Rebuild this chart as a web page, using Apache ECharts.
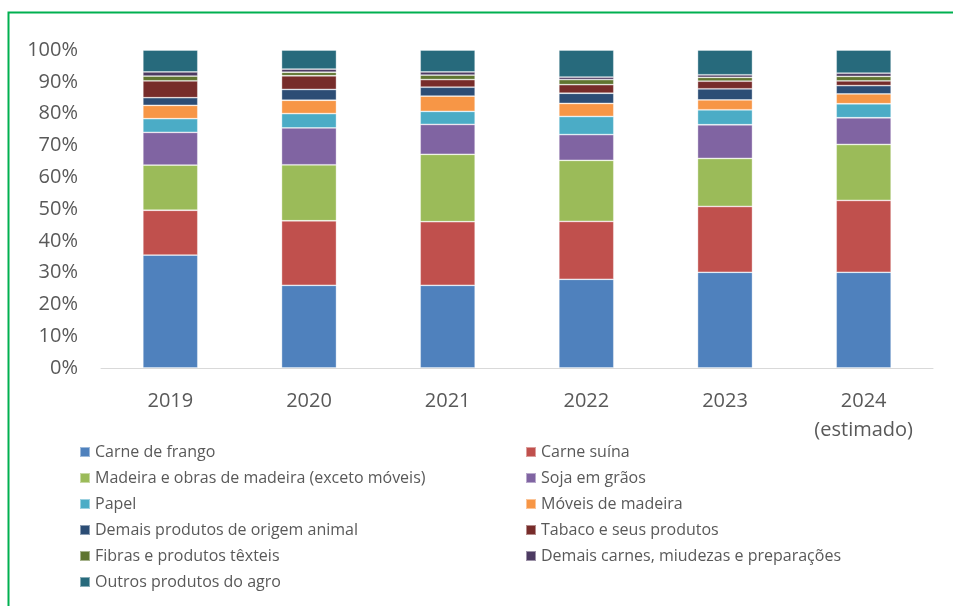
<!DOCTYPE html>
<html>
<head>
<meta charset="utf-8">
<script src="https://cdn.jsdelivr.net/npm/echarts@6/dist/echarts.min.js"></script>
<style>html,body{margin:0;padding:0;background:#fff;}#c{width:953px;height:606px;}</style>
</head>
<body>
<div id="c"></div>
<script>
const categories = ['2019', '2020', '2021', '2022', '2023', '2024\n(estimado)'];
const yTicks = [0, 10, 20, 30, 40, 50, 60, 70, 80, 90, 100];

const carneFrango   = [35.5, 26.0, 26.0, 27.9, 30.1, 30.1];
const carneSuina    = [14.1, 20.3, 20.0, 18.2, 20.7, 22.6];
const madeira       = [14.2, 17.6, 21.2, 19.2, 15.1, 17.6];
const soja          = [10.3, 11.6, 9.4, 8.1, 10.6, 8.4];
const papel         = [4.3, 4.5, 4.1, 5.7, 4.7, 4.4];
const moveis        = [4.2, 4.2, 4.8, 4.1, 3.1, 3.1];
const demaisAnimal  = [2.4, 3.4, 2.8, 3.2, 3.5, 2.6];
const tabaco        = [5.3, 4.3, 2.4, 2.7, 2.4, 1.5];
const fibras        = [1.5, 1.1, 1.4, 1.6, 1.2, 1.4];
const demaisCarnes  = [1.3, 1.0, 1.0, 0.8, 0.8, 1.0];
const outros        = [6.9, 6.0, 6.9, 8.5, 7.8, 7.3];

const seriesDefs = [
  ['Carne de frango', carneFrango, '#4F81BD'],
  ['Carne suína', carneSuina, '#C0504D'],
  ['Madeira e obras de madeira (exceto móveis)', madeira, '#9BBB59'],
  ['Soja em grãos', soja, '#8064A2'],
  ['Papel', papel, '#4BACC6'],
  ['Móveis de madeira', moveis, '#F79646'],
  ['Demais produtos de origem animal', demaisAnimal, '#2C4D75'],
  ['Tabaco e seus produtos', tabaco, '#772C2A'],
  ['Fibras e produtos têxteis', fibras, '#5F7530'],
  ['Demais carnes, miudezas e preparações', demaisCarnes, '#4D3B62'],
  ['Outros produtos do agro', outros, '#276A7C']
];

const leftCol = seriesDefs.filter((d, i) => i % 2 === 0).map(d => d[0]);
const rightCol = seriesDefs.filter((d, i) => i % 2 === 1).map(d => d[0]);

const FONT = 'Open Sans';
const legendBase = {
  orient: 'vertical',
  top: 444,
  padding: 0,
  itemWidth: 10,
  itemHeight: 10,
  itemGap: 10,
  icon: 'rect',
  selectedMode: false,
  textStyle: { fontFamily: FONT, fontSize: 16, color: '#595959', lineHeight: 16 }
};

const chart = echarts.init(document.getElementById('c'), null, { renderer: 'canvas' });
chart.setOption({
  animation: false,
  backgroundColor: '#fff',
  graphic: [{
    type: 'rect', left: 6, top: 10,
    shape: { width: 960, height: 620 },
    style: { fill: 'none', stroke: '#00B050', lineWidth: 2 }
  }],
  grid: { left: 101, right: 20, top: 50, bottom: 238 },
  legend: [
    Object.assign({}, legendBase, { left: 79, data: leftCol }),
    Object.assign({}, legendBase, { left: 525, data: rightCol })
  ],
  xAxis: {
    type: 'category',
    data: categories,
    axisLine: { lineStyle: { color: '#D9D9D9', width: 1 } },
    axisTick: { show: false },
    axisLabel: { fontFamily: FONT, fontSize: 20, color: '#595959', margin: 19, lineHeight: 29, interval: 0 }
  },
  yAxis: {
    type: 'value',
    min: yTicks[0],
    max: yTicks[yTicks.length - 1],
    interval: 10,
    splitLine: { show: false },
    axisLine: { show: false },
    axisTick: { show: false },
    axisLabel: { fontFamily: FONT, fontSize: 20, color: '#595959', margin: 23, formatter: '{value}%' }
  },
  series: seriesDefs.map(d => ({
    name: d[0],
    type: 'bar',
    stack: 'total',
    data: d[1],
    barWidth: 55,
    itemStyle: { color: d[2], borderColor: 'rgba(255,255,255,0.45)', borderWidth: 0.8 }
  }))
});
</script>
</body>
</html>
